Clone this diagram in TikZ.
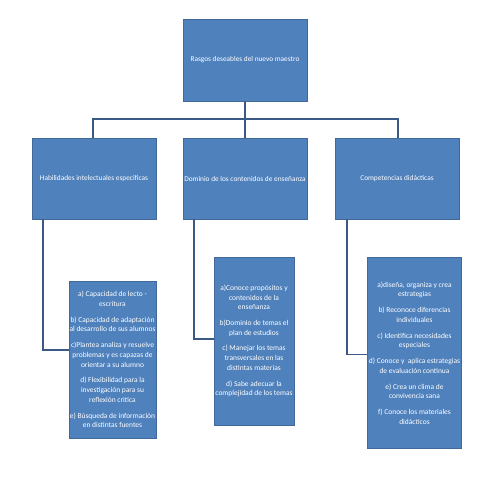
\documentclass[tikz,border=0pt]{standalone}
\usepackage{fontspec}
\setmainfont{Carlito}
\definecolor{boxfill}{HTML}{4F81BD}
\definecolor{boxline}{HTML}{41699A}
\definecolor{conn}{HTML}{3A5A85}
\begin{document}
\begin{tikzpicture}[x=0.75pt,y=-0.75pt,
  box/.style={draw=boxline,line width=0.5pt,fill=boxfill,inner sep=0pt,text=white,
    font=\fontsize{5.5pt}{6.6pt}\selectfont,align=center},
  list/.style={box,font=\fontsize{5.6pt}{7.3pt}\selectfont},
  conn/.style={draw=conn,line width=1.1pt}]
\useasboundingbox (0,0) rectangle (480,480);
\node[box,minimum width=93pt,minimum height=61.5pt] (top) at (245,60) {Rasgos deseables del nuevo maestro};
\node[box,minimum width=93pt,minimum height=60.75pt] (c1) at (94,178.5) {Habilidades intelectuales especificas};
\node[box,minimum width=93pt,minimum height=60.75pt] (c2) at (245,178.5) {Dominio de los contenidos de enseñanza};
\node[box,minimum width=93pt,minimum height=60.75pt] (c3) at (397,178.5) {Competencias didácticas};
\node[list,minimum width=65.25pt,minimum height=117.75pt] (b1) at (112.5,359.5) {a) Capacidad de lecto -\\escritura\\[4.5pt]
b) Capacidad de adaptación\\al desarrollo de sus alumnos\\[4.5pt]
c)Plantea analiza y resuelve\\problemas y es capazas de\\orientar a su alumno\\[4.5pt]
d) Flexibilidad para la\\investigación para su\\reflexión critica\\[4.5pt]
e) Búsqueda de información\\en distintas fuentes};
\node[list,minimum width=60pt,minimum height=126pt] (b2) at (254,341) {a)Conoce propósitos y\\contenidos de la\\enseñanza\\[4.5pt]
b)Dominio de temas el\\plan de estudios\\[4.5pt]
c) Manejar los temas\\transversales en las\\distintas materias\\[4.5pt]
d) Sabe adecuar la\\complejidad de los temas};
\node[list,minimum width=71pt,minimum height=143pt] (b3) at (414.5,353) {a)diseña, organiza y crea\\estrategias\\[4.5pt]
b) Reconoce diferencias\\individuales\\[4.5pt]
c) Identifica necesidades\\especiales\\[4.5pt]
d) Conoce y\ \ aplica estrategias\\de evaluación continua\\[4.5pt]
e) Crea un clima de\\convivencia sana\\[4.5pt]
f) Conoce los materiales\\didácticos};
\coordinate (bus) at (245,119);
\draw[conn] (top.south) -- (bus);
\draw[conn] ([xshift=-0.75pt]c1.north) |- (bus);
\draw[conn] (c2.north) -- (bus);
\draw[conn] ([xshift=0.75pt]c3.north) |- (bus);
\draw[conn] ([xshift=-38.25pt]c1.south) |- ([yshift=7.1pt]b1.west);
\draw[conn] ([xshift=-38.25pt]c2.south) |- ([yshift=1.5pt]b2.west);
\draw[conn] ([xshift=-37.5pt]c3.south) |- ([yshift=-1.1pt]b3.west);
\end{tikzpicture}
\end{document}
